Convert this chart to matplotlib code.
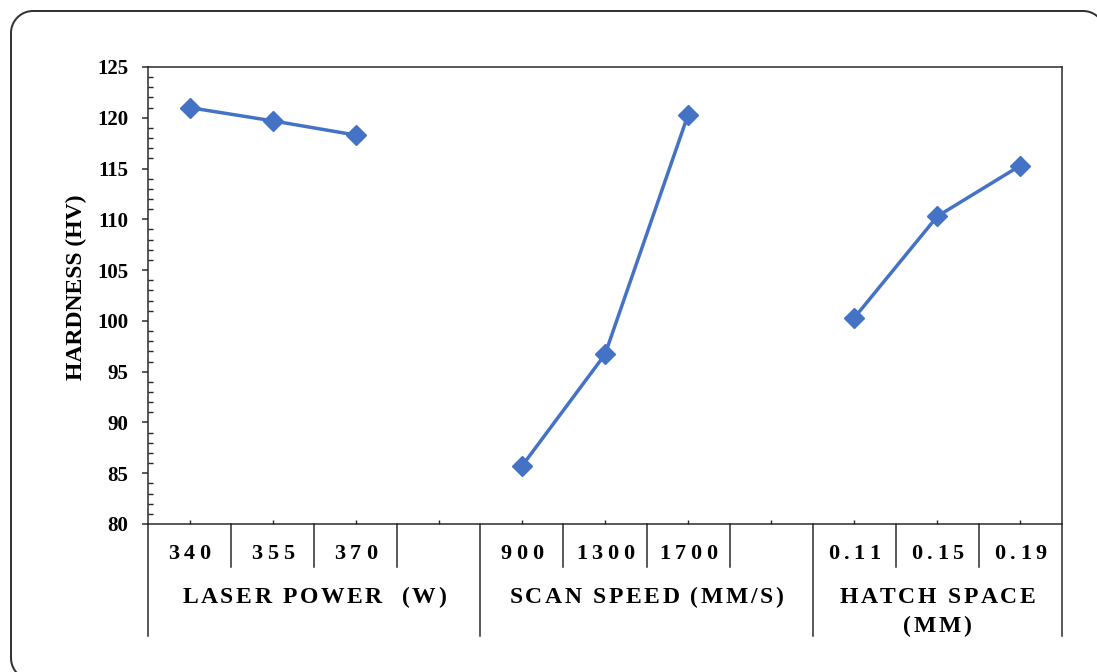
#!/usr/bin/env python3
"""Main-effects plot of hardness vs. LPBF process parameters."""
import numpy as np
import matplotlib
matplotlib.use("Agg")
import matplotlib.pyplot as plt
from matplotlib.ticker import MultipleLocator
from matplotlib.font_manager import FontProperties, findfont, get_font
import matplotlib.transforms as mtransforms

plt.rcParams["font.family"] = ["Liberation Serif", "DejaVu Serif"]
plt.rcParams["font.weight"] = "bold"

# factor levels (one empty slot between groups)
groups = [["LASER POWER  (W)"], ["SCAN SPEED (MM/S)"], ["HATCH SPACE", "(MM)"]]
levels = [["340", "355", "370"], ["900", "1300", "1700"], ["0.11", "0.15", "0.19"]]
hardness = [[121.0, 119.7, 118.3], [85.7, 96.7, 120.3], [100.3, 110.3, 115.3]]

BLUE = "#4472C4"
DARK = "#262626"
PT = 72 / 100  # points per pixel at 100 dpi

W, H, DPI = 1097, 672, 100
fig = plt.figure(figsize=(W / DPI, H / DPI), dpi=DPI)
ax = fig.add_axes([148 / W, 1 - 524 / H, (1062 - 148) / W, (524 - 67) / H])
# image-pixel coordinates, y pointing down
PX = mtransforms.Affine2D().scale(1 / W, -1 / H).translate(0, 1) + fig.transFigure

slots = []
pos = 0
for gi, lv in enumerate(levels):
    slots.append(list(range(pos, pos + len(lv))))
    pos += len(lv) + (1 if gi < len(levels) - 1 else 0)
nslots = pos

for xs, ys in zip(slots, hardness):
    ax.plot(xs, ys, color=BLUE, lw=2.5, marker="D", ms=10, mfc=BLUE, mec=BLUE,
            zorder=3)

ax.set_xlim(-0.5, nslots - 0.5)
ax.set_ylim(80, 125)
ax.yaxis.set_major_locator(MultipleLocator(5))
ax.yaxis.set_minor_locator(MultipleLocator(1))
ax.tick_params(axis="y", which="major", direction="out", length=6 * PT,
               width=1.5 * PT, color=DARK, labelsize=15, pad=10)
ax.tick_params(axis="y", which="minor", direction="in", length=5 * PT,
               width=1.4 * PT, color=DARK)
ax.set_xticks(range(nslots))
ax.tick_params(axis="x", which="major", direction="in", length=4 * PT,
               width=1.4 * PT, color=DARK, labelbottom=False)
for sp in ax.spines.values():
    sp.set_color(DARK)
    sp.set_linewidth(1.5 * PT)
for lab in ax.get_yticklabels():
    lab.set_fontweight("bold")

fig.text(76, 287, "HARDNESS (HV)", transform=PX, rotation=90, ha="center",
         va="center", fontsize=17, fontweight="bold")


def tracked(xc, y_base, s, size, gap):
    """Draw s centred on pixel x, letter-spaced by gap pixels."""
    prop = FontProperties(family="Liberation Serif", weight="bold", size=size)
    font = get_font(findfont(prop))
    font.set_size(size, DPI)
    adv = [font.load_char(ord(c)).linearHoriAdvance / 65536 for c in s]
    total = sum(adv) + gap * (len(s) - 1)
    x = xc - total / 2
    for c, a in zip(s, adv):
        if c != " ":
            fig.text(x, y_base, c, transform=PX, ha="left", va="baseline",
                     fontproperties=prop, color="black")
        x += a + gap


def xpix(x):
    return ax.transData.transform((x, 0))[0]


y_axis, y_inner, y_outer = 524, 567, 636
edges = set()
for gi, xs in enumerate(slots):
    left = xs[0] - 0.5
    right = xs[-1] + 0.5 + (1 if gi < len(slots) - 1 else 0)
    edges.update([left, right])
    for x, lab in zip(xs, levels[gi]):
        tracked(xpix(x), 559, lab, 16, 4.5)
    for e in np.arange(left + 1, right, 1.0):
        fig.add_artist(plt.Line2D([xpix(e)] * 2, [y_axis, y_inner], transform=PX,
                                  color=DARK, lw=1.5 * PT))
    for li, line in enumerate(groups[gi]):
        tracked((xpix(left) + xpix(right)) / 2, 603 + 29 * li, line, 17, 2.6)

for e in sorted(edges):
    fig.add_artist(plt.Line2D([xpix(e)] * 2, [y_axis, y_outer], transform=PX,
                              color=DARK, lw=1.5 * PT))


def rounded_rect(x0, y0, x1, y1, r, n=24):
    """Outline of a rounded rectangle in pixel coordinates (y down)."""
    t = np.linspace(0, np.pi / 2, n)
    pts = []
    for cx, cy, a0 in [(x1 - r, y0 + r, -np.pi / 2), (x1 - r, y1 - r, 0),
                       (x0 + r, y1 - r, np.pi / 2), (x0 + r, y0 + r, np.pi)]:
        a = a0 + t
        pts.append(np.column_stack([cx + r * np.cos(a), cy + r * np.sin(a)]))
    pts = np.vstack(pts + [pts[0][:1]])
    return pts[:, 0], pts[:, 1]


fx, fy = rounded_rect(11, 11, 1105, 680, 22)
fig.add_artist(plt.Line2D(fx, fy, transform=PX, color="#333333", lw=2 * PT))

fig.savefig("out.png", dpi=DPI)
